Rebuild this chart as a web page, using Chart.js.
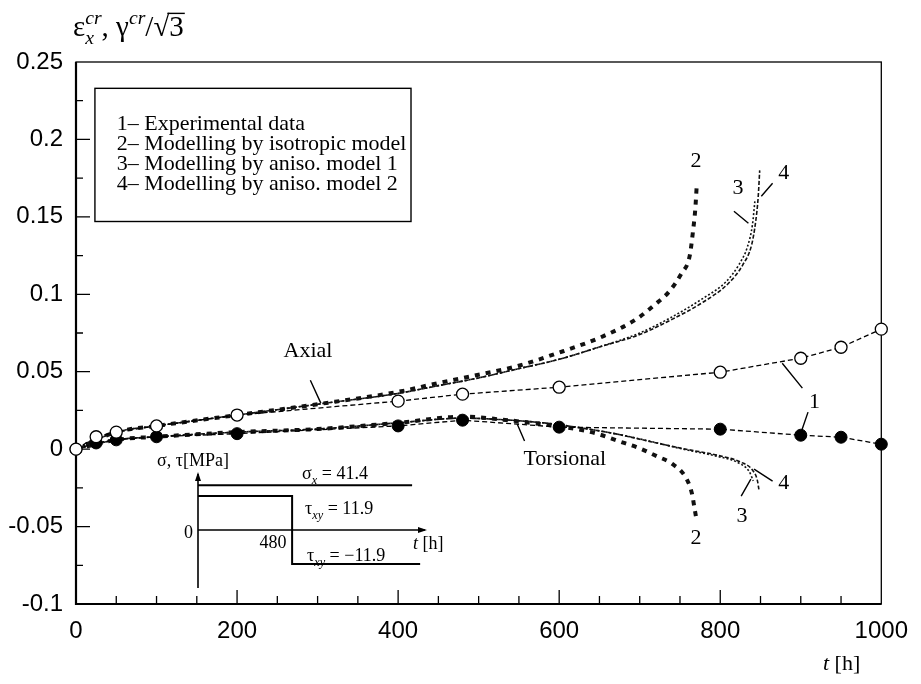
<!DOCTYPE html>
<html>
<head>
<meta charset="utf-8">
<script src="https://cdn.jsdelivr.net/npm/chart.js@4.4.1/dist/chart.umd.min.js"></script>
<style>
  body { margin: 0; background: #fff; }
  #wrap { position: relative; width: 921px; height: 684px; }
  #wrap canvas { position: absolute; }
</style>
</head>
<body>
<div id="wrap">
  <canvas id="creepChart" width="921" height="684" style="left:0;top:0"></canvas>
  <canvas id="loadInset" width="300" height="160" style="left:150px;top:445px"></canvas>
</div>
<script>
// values (t in hours, strain)
const expTimes = [0, 25, 50, 100, 200, 400, 480, 600, 800, 900, 950, 1000];
const expAxial = [0, 0.008, 0.011, 0.015, 0.022, 0.031, 0.0355, 0.040, 0.0497, 0.0587, 0.0658, 0.0775];
const expTorsional = [0, 0.004, 0.006, 0.008, 0.010, 0.015, 0.0187, 0.0142, 0.0129, 0.009, 0.0077, 0.0032];

const isoAxialTimes = [0, 50, 100, 200, 300, 400, 449, 490, 548, 594, 655, 696, 718, 737, 752, 762, 766, 769, 771];
const isoAxial = [0, 0.011, 0.015, 0.022, 0.029, 0.037, 0.0426, 0.047, 0.0536, 0.0613, 0.073, 0.084, 0.093, 0.102, 0.1136, 0.1246, 0.140, 0.155, 0.172];
const an1AxialTimes = [0, 50, 100, 200, 300, 400, 450, 500, 550, 600, 650, 700, 737, 779, 807, 823, 834, 840, 843];
const an1Axial = [0, 0.011, 0.015, 0.022, 0.029, 0.036, 0.041, 0.046, 0.052, 0.058, 0.066, 0.075, 0.0845, 0.0975, 0.108, 0.119, 0.131, 0.145, 0.160];
const an2AxialTimes = [0, 50, 100, 200, 300, 400, 450, 500, 550, 600, 650, 700, 737, 779, 810, 828, 839, 844, 847, 849];
const an2Axial = [0, 0.011, 0.015, 0.022, 0.029, 0.036, 0.041, 0.046, 0.052, 0.058, 0.066, 0.074, 0.083, 0.095, 0.107, 0.119, 0.132, 0.147, 0.162, 0.180];

const isoTorsTimes = [0, 50, 100, 200, 300, 400, 480, 530, 580, 626, 647, 672, 700, 721, 740, 758, 765, 768, 770];
const isoTors = [0, 0.006, 0.008, 0.011, 0.013, 0.017, 0.021, 0.019, 0.016, 0.0125, 0.010, 0.0055, 0.0005, -0.0045, -0.0094, -0.019, -0.029, -0.038, -0.044];
const an1TorsTimes = [0, 50, 100, 200, 300, 400, 480, 530, 580, 630, 672, 712, 754, 795, 823, 836, 841];
const an1Tors = [0, 0.006, 0.008, 0.011, 0.013, 0.017, 0.020, 0.019, 0.017, 0.0135, 0.0097, 0.0052, 0, -0.0045, -0.009, -0.0145, -0.0205];
const an2TorsTimes = [0, 50, 100, 200, 300, 400, 480, 530, 580, 630, 672, 712, 754, 797, 826, 840, 846, 848];
const an2Tors = [0, 0.006, 0.008, 0.011, 0.013, 0.017, 0.020, 0.019, 0.017, 0.0135, 0.0097, 0.005, 0.0003, -0.004, -0.0085, -0.0135, -0.020, -0.026];

const xTickLabels = ['0', '200', '400', '600', '800', '1000'];
const yTickLabels = ['-0.1', '-0.05', '0', '0.05', '0.1', '0.15', '0.2', '0.25'];

const legendLines = [
  '1\u2013 Experimental data',
  '2\u2013 Modelling by isotropic model',
  '3\u2013 Modelling by aniso. model 1',
  '4\u2013 Modelling by aniso. model 2'
];

// loading history sketch (inset)
const tauTimes = [0, 480, 480, 1133];
const tauXY = [11.9, 11.9, -11.9, -11.9];
const sigmaTimes = [0, 1092];
const sigmaX = 41.4;
const sigmaSketchLevel = 15.7; // the sketch draws sigma off scale, just under the arrow

const SERIF = '"Liberation Serif", "Times New Roman", serif';

function pts(xs, ys) {
  return xs.map((t, i) => ({ x: t, y: ys[i] }));
}

// text with sub/superscripts, y is the baseline
function drawRich(ctx, x, y, size, parts) {
  let cx = x;
  parts.forEach(p => {
    const small = p.sub || p.sup;
    const s = small ? size * 0.68 : size;
    ctx.font = `${p.italic ? 'italic ' : ''}${s}px ${SERIF}`;
    const dy = p.sub ? size * 0.28 : p.sup ? -size * 0.42 : 0;
    ctx.fillText(p.t, cx, y + dy);
    if (!p.keep) cx += ctx.measureText(p.t).width;
  });
  return cx;
}

function modelLine(label, xs, ys, style) {
  return Object.assign({
    label,
    data: pts(xs, ys),
    borderColor: '#111',
    pointRadius: 0,
    fill: false,
    cubicInterpolationMode: 'monotone',
    order: 2
  }, style);
}

const isoStyle = { borderWidth: 4, borderDash: [5, 6] };
const an1Style = { borderWidth: 1.6, borderDash: [2, 2] };
const an2Style = { borderWidth: 1.6, borderDash: [4, 2] };

const frameAndTicks = {
  id: 'frameAndTicks',
  beforeDatasetsDraw(chart) {
    const { ctx, chartArea: a, scales: { x, y } } = chart;
    ctx.save();
    ctx.strokeStyle = '#000';
    ctx.lineWidth = 1.3;
    ctx.strokeRect(a.left, a.top, a.right - a.left, a.bottom - a.top);
    ctx.lineWidth = 2.2;
    ctx.beginPath();
    ctx.moveTo(a.left, a.top);
    ctx.lineTo(a.left, a.bottom);
    ctx.lineTo(a.right, a.bottom);
    ctx.stroke();
    ctx.lineWidth = 1.3;
    ctx.beginPath();
    for (let t = 50; t < 1000; t += 50) {
      const px = x.getPixelForValue(t);
      const len = t % 200 === 0 ? 14 : 8;
      ctx.moveTo(px, a.bottom);
      ctx.lineTo(px, a.bottom - len);
    }
    for (let k = 1; k < 14; k++) {
      const py = y.getPixelForValue(-0.1 + k * 0.025);
      const len = k % 2 === 0 ? 14 : 7;
      ctx.moveTo(a.left, py);
      ctx.lineTo(a.left + len, py);
    }
    ctx.stroke();
    ctx.restore();
  },
  afterDraw(chart) {
    const { ctx, scales: { x, y } } = chart;
    const X = v => x.getPixelForValue(v);
    const Y = v => y.getPixelForValue(v);
    ctx.save();
    ctx.fillStyle = '#000';
    ctx.strokeStyle = '#000';

    // legend box
    ctx.lineWidth = 1.4;
    ctx.strokeRect(X(23.5), Y(0.233), X(416) - X(23.5), Y(0.147) - Y(0.233));
    ctx.font = `22px ${SERIF}`;
    ctx.textBaseline = 'middle';
    const legendY = [0.210, 0.197, 0.184, 0.171];
    legendLines.forEach((s, i) => ctx.fillText(s, X(50.6), Y(legendY[i])));

    // curve labels
    const labels = [
      ['Axial', 288, 0.0633], ['Torsional', 607, -0.0065], ['1', 917, 0.0303],
      ['2', 770, 0.186], ['3', 822, 0.1685], ['4', 879, 0.178],
      ['2', 770, -0.0575], ['3', 827, -0.0433], ['4', 879, -0.022]
    ];
    ctx.font = `22px ${SERIF}`;
    ctx.textAlign = 'center';
    labels.forEach(([s, t, v]) => ctx.fillText(s, X(t), Y(v)));

    const leaders = [
      [291, 0.0445, 304, 0.0297], [548, 0.0161, 557, 0.0052],
      [877, 0.0555, 902, 0.0394], [909, 0.0239, 900, 0.0103],
      [817, 0.1536, 835, 0.1459], [865, 0.1717, 851, 0.1633],
      [826, -0.0303, 838, -0.0194], [865, -0.0207, 842, -0.0129]
    ];
    ctx.lineWidth = 1.4;
    ctx.beginPath();
    leaders.forEach(([t1, v1, t2, v2]) => {
      ctx.moveTo(X(t1), Y(v1));
      ctx.lineTo(X(t2), Y(v2));
    });
    ctx.stroke();

    // axis titles
    ctx.textAlign = 'left';
    ctx.textBaseline = 'alphabetic';
    const ts = 29;
    let cx = drawRich(ctx, 73, 36, ts, [
      { t: '\u03b5' }, { t: 'x', sub: true, italic: true, keep: true },
      { t: 'cr', sup: true, italic: true }, { t: ', \u03b3' },
      { t: 'cr', sup: true, italic: true }, { t: '/\u221a' }
    ]);
    ctx.font = `${ts}px ${SERIF}`;
    const w3 = ctx.measureText('3').width;
    ctx.fillText('3', cx, 36);
    ctx.lineWidth = 1.4;
    ctx.beginPath();
    ctx.moveTo(cx - 2, 36 - ts * 0.78);
    ctx.lineTo(cx + w3 + 1, 36 - ts * 0.78);
    ctx.stroke();

    drawRich(ctx, 823, 670, 22, [{ t: 't', italic: true }, { t: ' [h]' }]);
    ctx.restore();
  }
};

new Chart(document.getElementById('creepChart'), {
  type: 'line',
  data: {
    datasets: [
      {
        label: 'Experimental axial',
        data: pts(expTimes, expAxial),
        borderColor: '#000', borderWidth: 1.3, borderDash: [5, 3],
        pointRadius: 6, pointBorderWidth: 1.3,
        pointBackgroundColor: '#fff', pointBorderColor: '#000',
        tension: 0, clip: false, order: 0
      },
      {
        label: 'Experimental torsional',
        data: pts(expTimes, expTorsional),
        borderColor: '#000', borderWidth: 1.3, borderDash: [5, 3],
        pointRadius: 6, pointBorderWidth: 1,
        pointBackgroundColor: '#000', pointBorderColor: '#000',
        tension: 0, clip: false, order: 0
      },
      modelLine('Isotropic axial', isoAxialTimes, isoAxial, isoStyle),
      modelLine('Aniso 1 axial', an1AxialTimes, an1Axial, an1Style),
      modelLine('Aniso 2 axial', an2AxialTimes, an2Axial, an2Style),
      modelLine('Isotropic torsional', isoTorsTimes, isoTors, isoStyle),
      modelLine('Aniso 1 torsional', an1TorsTimes, an1Tors, an1Style),
      modelLine('Aniso 2 torsional', an2TorsTimes, an2Tors, an2Style)
    ]
  },
  options: {
    responsive: false,
    animation: false,
    devicePixelRatio: 1,
    layout: { padding: { left: 0, right: 35, top: 62, bottom: 0 } },
    plugins: { legend: { display: false }, tooltip: { enabled: false } },
    scales: {
      x: {
        type: 'linear', min: 0, max: 1000,
        afterFit: s => { s.height = 80; },
        grid: { display: false, drawTicks: false },
        border: { display: false },
        ticks: {
          stepSize: 200, padding: 13, color: '#000',
          font: { family: '"Liberation Sans", Arial, sans-serif', size: 24 },
          callback: (v, i) => xTickLabels[i]
        }
      },
      y: {
        type: 'linear', min: -0.1, max: 0.25,
        afterFit: s => { s.width = 76; },
        grid: { display: false, drawTicks: false },
        border: { display: false },
        ticks: {
          stepSize: 0.05, padding: 13, color: '#000',
          font: { family: '"Liberation Sans", Arial, sans-serif', size: 24 },
          callback: (v, i) => yTickLabels[i]
        }
      }
    }
  },
  plugins: [frameAndTicks]
});

// inset: loading programme
const insetAxes = {
  id: 'insetAxes',
  beforeDatasetsDraw(chart) {
    const { ctx, scales: { x, y } } = chart;
    const x0 = x.getPixelForValue(0), y0 = y.getPixelForValue(0);
    const yTop = y.getPixelForValue(y.max), yBot = y.getPixelForValue(y.min);
    const xEnd = x.getPixelForValue(x.max);
    ctx.save();
    ctx.strokeStyle = '#000';
    ctx.fillStyle = '#000';
    ctx.lineWidth = 1.6;
    ctx.beginPath();
    ctx.moveTo(x0, yBot); ctx.lineTo(x0, yTop + 2);
    ctx.moveTo(x0, y0); ctx.lineTo(xEnd - 2, y0);
    ctx.stroke();
    ctx.beginPath();
    ctx.moveTo(x0, yTop); ctx.lineTo(x0 - 3, yTop + 9); ctx.lineTo(x0 + 3, yTop + 9); ctx.closePath();
    ctx.moveTo(xEnd, y0); ctx.lineTo(xEnd - 9, y0 - 3); ctx.lineTo(xEnd - 9, y0 + 3); ctx.closePath();
    ctx.fill();
    ctx.restore();
  },
  afterDraw(chart) {
    const { ctx, scales: { x, y } } = chart;
    const X = v => x.getPixelForValue(v);
    const Y = v => y.getPixelForValue(v);
    ctx.save();
    ctx.fillStyle = '#000';
    ctx.textBaseline = 'alphabetic';
    ctx.textAlign = 'left';
    const fs = 18;
    drawRich(ctx, X(-209), Y(24.5) + 6, fs, [{ t: '\u03c3, \u03c4[MPa]' }]);
    drawRich(ctx, X(531), Y(20) + 6, fs, [{ t: '\u03c3' }, { t: 'x', sub: true, italic: true }, { t: ' = ' + sigmaX.toFixed(1) }]);
    drawRich(ctx, X(546), Y(7.7) + 6, fs, [{ t: '\u03c4' }, { t: 'xy', sub: true, italic: true }, { t: ' = ' + tauXY[0].toFixed(1) }]);
    drawRich(ctx, X(556), Y(-8.75) + 6, fs, [{ t: '\u03c4' }, { t: 'xy', sub: true, italic: true }, { t: ' = \u2212' + Math.abs(tauXY[2]).toFixed(1) }]);
    drawRich(ctx, X(1097), Y(-4.5) + 6, fs, [{ t: 't', italic: true }, { t: ' [h]' }]);
    ctx.font = `${fs}px ${SERIF}`;
    ctx.textAlign = 'center';
    ctx.fillText(String(tauTimes[1]), X(383), Y(-4.2) + 6);
    ctx.textAlign = 'right';
    ctx.fillText('0', X(-25), Y(-0.7) + 6);
    ctx.restore();
  }
};

new Chart(document.getElementById('loadInset'), {
  type: 'line',
  data: {
    datasets: [
      {
        label: 'sigma',
        data: sigmaTimes.map(t => ({ x: t, y: sigmaSketchLevel })),
        borderColor: '#000', borderWidth: 2, pointRadius: 0, tension: 0
      },
      {
        label: 'tau',
        data: pts(tauTimes, tauXY),
        borderColor: '#000', borderWidth: 2, pointRadius: 0, tension: 0
      }
    ]
  },
  options: {
    responsive: false,
    animation: false,
    devicePixelRatio: 1,
    layout: { padding: { left: 48, right: 23, top: 27, bottom: 17 } },
    plugins: { legend: { display: false }, tooltip: { enabled: false } },
    scales: {
      x: { type: 'linear', min: 0, max: 1168, display: false },
      y: { type: 'linear', min: -20.3, max: 20.3, display: false }
    }
  },
  plugins: [insetAxes]
});
</script>
</body>
</html>
